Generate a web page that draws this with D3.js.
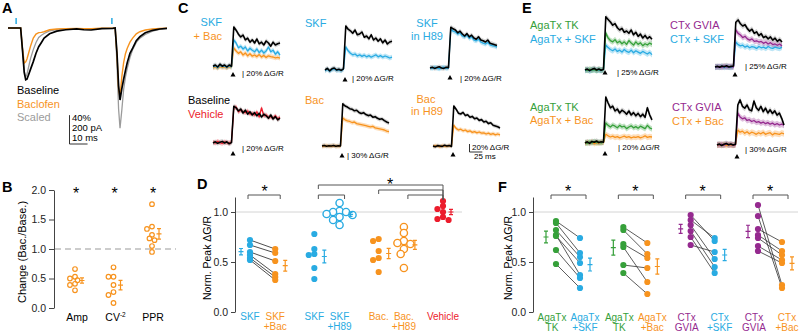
<!DOCTYPE html>
<html>
<head>
<meta charset="utf-8">
<script src="https://cdn.jsdelivr.net/npm/d3@7"></script>
<style>
  body { margin: 0; background: #fff; }
  text { font-family: "Liberation Sans", Arial, sans-serif; }
</style>
</head>
<body>
<svg id="fig" width="800" height="333"></svg>
<script>
const C = { blue: "#29abe2", orange: "#f7931e", red: "#ec1c2c", green: "#36a03a", purple: "#952a8f", gray: "#9b9b9b" };

// ---- Panel A: EPSCs (ms, pA)
const tA = [0, 7, 8, 9, 9.8, 10.5, 11.5, 12.5, 14, 15.5, 17, 18.5, 20, 23, 27, 32, 38, 42, 46, 52,
            58, 59.3, 60.3, 61.2, 62, 63, 64, 65, 66, 67.5, 69, 71, 73, 76, 80, 84, 88];
const aBaseline = [0, 0, -150, -310, -359, -355, -320, -285, -233, -175, -130, -100, -70, -40, -22, -12, -6, -12, -14, -4,
                   -2, 0, -170, -400, -499, -420, -355, -295, -240, -175, -140, -88, -60, -33, -16, -7, -2];
const aBaclofen = [0, 0, -140, -243, -235, -215, -170, -125, -70, -42, -32, -30, -26, -12, -7, -4, -3, -4, -5, -2,
                   -1, 0, -180, -420, -480, -337, -240, -178, -140, -98, -70, -40, -26, -14, -7, -3, -1];
const aScaled = [0, 0, -150, -300, -340, -320, -265, -210, -150, -100, -65, -50, -38, -20, -11, -6, -4, -6, -7, -3,
                 -1, 0, -240, -560, -695, -568, -425, -340, -280, -205, -150, -100, -70, -45, -22, -9, -3];
const aStim = [4.5, 57.5];

// ---- Panel B: change ratios
const bCats = ["Amp", "CV", "PPR"];
const bAmp = [0.66, 0.53, 0.50, 0.47, 0.41, 0.39, 0.30];
const bCV = [0.69, 0.53, 0.53, 0.39, 0.27, 0.22, 0.085];
const bPPR = [1.76, 1.38, 1.34, 1.24, 1.18, 1.15, 1.05, 0.95];

// ---- Panels C and E: dG/R traces (% , sampled every 4.5 ms)
const tTrace = d3.range(30).map(i => i * 4.5);
const c1Black = [2,5,0,7,2,5,0,5,2,100,92,82,75,80,68,72,62,68,60,70,58,62,55,65,60,52,62,55,58,60];
const c1Blue = [0,3,-2,4,1,2,-1,3,0,68,60,48,52,45,50,40,47,42,38,45,36,42,35,40,50,38,42,32,38,30];
const c1Orange = [-2,0,-3,1,-1,0,-2,1,-1,48,40,34,38,30,35,28,33,27,30,26,31,25,29,24,28,26,25,23,24,22];
const c2Black = [0,4,-2,3,5,0,2,-1,3,110,102,98,92,100,88,90,95,82,85,78,88,75,80,72,78,68,75,65,70,72];
const c2Blue = [-2,2,-3,1,3,-1,0,-2,2,58,48,42,38,40,35,38,34,37,33,36,32,35,38,33,36,32,35,33,30,32];
const c3Black = [0,2,-1,1,3,0,-1,2,1,102,98,95,88,92,85,80,86,78,82,75,72,78,70,68,65,70,62,60,58,56];
const c3Blue = [1,-1,2,0,-2,1,2,-1,0,98,92,90,85,88,80,78,82,74,78,70,68,72,65,62,60,64,58,56,55,52];
const c4Black = [0,3,-1,2,4,0,3,-2,1,92,88,80,85,75,82,72,78,70,76,68,74,65,72,68,62,70,60,66,58,62];
const c4Red = [2,0,4,1,-1,3,1,0,2,88,90,78,82,78,76,80,72,74,70,78,65,88,68,70,64,66,62,68,60,64];
const c5Black = [0,2,-1,1,0,2,-1,1,0,158,150,146,140,138,132,134,126,122,125,118,114,116,108,110,104,100,102,95,90,86];
const c5Orange = [-1,0,1,-1,0,1,0,-1,0,105,98,94,92,88,90,84,82,80,78,76,74,72,74,68,66,64,62,60,56,54];
const c6Black = [0,-2,1,0,-1,2,0,1,-1,100,92,82,80,84,76,78,72,74,68,70,64,66,60,62,56,58,52,50,48,45];
const c6Orange = [-1,1,0,-2,1,0,-1,1,0,52,44,40,42,38,40,36,38,34,36,33,35,32,33,30,32,29,31,28,30,28];
const e1Black = [0,3,-2,2,5,0,3,-1,2,166,158,150,140,145,132,125,130,118,122,115,125,110,118,105,112,100,108,98,104,96];
const e1Green = [2,-1,3,0,1,-2,2,0,1,116,100,92,88,95,85,90,82,88,80,92,84,78,88,80,85,76,82,78,84,80];
const e1Blue = [-2,1,-3,0,2,-1,0,-2,1,78,70,64,60,66,58,62,56,64,58,55,62,54,60,56,52,58,54,50,55,48];
const e2Black = [0,2,-1,3,1,4,0,2,3,140,147,135,128,132,120,112,118,105,110,98,104,92,96,88,94,84,90,80,86,78];
const e2Purple = [1,0,2,-1,3,0,2,1,0,116,105,100,92,96,88,84,88,80,82,78,80,74,78,72,76,70,72,68,72,66];
const e2Blue = [-1,1,0,2,-1,1,0,-1,1,78,70,66,68,62,66,60,64,62,58,64,60,62,58,64,60,58,62,60,58,62];
const e3Black = [0,3,-1,4,2,5,1,3,2,115,100,88,92,80,85,75,82,78,72,80,70,76,68,74,66,72,64,88,70,58];
const e3Green = [2,-1,3,0,4,1,2,0,3,50,44,40,45,42,38,44,40,42,36,40,43,38,41,37,42,39,36,44,38,35];
const e3Orange = [-1,2,0,3,-2,1,0,2,1,22,18,15,17,14,16,13,15,17,14,16,13,15,14,16,13,15,18,14,16,15];
const e4Black = [0,4,-2,3,6,1,4,0,3,150,169,145,138,150,132,128,165,140,130,145,125,138,120,132,118,128,112,120,100,75];
const e4Purple = [2,0,3,-1,4,1,2,0,1,120,105,98,102,92,95,88,92,85,88,82,86,80,84,78,82,76,80,75,78,74];
const e4Orange = [-1,1,0,2,-2,1,0,-1,1,56,48,52,44,50,42,48,45,40,46,42,48,40,44,46,38,44,42,40,45,42];
const stimTime = 39;

// ---- Panel D: normalized peak
const dSKFPair = [0.72, 0.67, 0.60, 0.57, 0.54, 0.52];
const dSKFBacPair = [0.63, 0.59, 0.51, 0.38, 0.35, 0.32];
const dSKF = [0.78, 0.63, 0.58, 0.57, 0.44, 0.33];
const dSKFH89 = [1.09, 1.01, 1.00, 1.00, 0.98, 0.97, 0.95, 0.92, 0.87];
const dBac = [0.73, 0.71, 0.61, 0.54, 0.52, 0.40];
const dBacH89 = [0.85, 0.79, 0.71, 0.69, 0.68, 0.63, 0.58, 0.44];
const dVehicle = [1.11, 1.06, 1.03, 1.00, 0.95, 0.93, 0.92];

// ---- Panel F: paired normalized peak
const fAgaTK1 = [0.91, 0.89, 0.82, 0.77, 0.76, 0.62, 0.48];
const fAgaSKF = [0.74, 0.59, 0.55, 0.37, 0.49, 0.34, 0.24];
const fAgaTK2 = [0.85, 0.82, 0.68, 0.65, 0.47, 0.39];
const fAgaBac = [0.69, 0.58, 0.54, 0.30, 0.44, 0.18];
const fCtx1 = [0.97, 0.92, 0.87, 0.81, 0.75, 0.67];
const fCtxSKF = [0.71, 0.74, 0.53, 0.45, 0.39, 0.60];
const fCtx2 = [1.07, 0.96, 0.83, 0.77, 0.74, 0.66, 0.61];
const fCtxBac = [0.27, 0.24, 0.70, 0.61, 0.57, 0.52, 0.49];

const svg = d3.select("#fig");

function txt(g, x, y, s, opts = {}) {
  return g.append("text").attr("x", x).attr("y", y)
    .attr("font-size", opts.size || 11)
    .attr("fill", opts.color || "#000")
    .attr("text-anchor", opts.anchor || "start")
    .attr("font-weight", opts.bold ? "bold" : null)
    .text(s);
}

function panelLetter(x, y, s) { txt(svg, x, y, s, { size: 14.5, bold: true }); }

function errBar(g, x, vals, y, color) {
  const m = d3.mean(vals), s = d3.deviation(vals) / Math.sqrt(vals.length);
  g.append("path")
    .attr("d", `M${x},${y(m - s)}V${y(m + s)}M${x - 2},${y(m - s)}h4M${x - 2},${y(m + s)}h4M${x - 2.5},${y(m)}h5`)
    .attr("stroke", color).attr("stroke-width", 1.2).attr("fill", "none");
}

// simple beeswarm: horizontal offsets so dots barely overlap
function swarm(vals, y, r) {
  const placed = [];
  return vals.map(v => {
    const py = y(v);
    for (let k = 0; k < 14; k++) {
      const dx = k === 0 ? 0 : (k % 2 ? -1 : 1) * Math.ceil(k / 2) * r * 0.9;
      if (placed.every(p => Math.hypot(p[0] - dx, p[1] - py) >= r * 1.4)) {
        placed.push([dx, py]);
        return dx;
      }
    }
    return 0;
  });
}

function star(g, x, y) { txt(g, x, y, "*", { size: 16, anchor: "middle" }); }

function bracket(g, x1, x2, y, tl = 4, tr = 4) {
  g.append("path").attr("d", `M${x1},${y + tl}V${y}H${x2}V${y + tr}`)
    .attr("fill", "none").attr("stroke", "#555").attr("stroke-width", 1);
}

// ================= A =================
(function () {
  const g = svg.append("g");
  panelLetter(2, 13, "A");
  const x = d3.scaleLinear().domain([0, 88]).range([8, 167]);
  const y = d3.scaleLinear().domain([-700, 0]).range([129, 28]);
  const line = d3.line().x((d, i) => x(tA[i])).y(d => y(d));
  [[aScaled, C.gray, 1.3], [aBaclofen, C.orange, 1.4], [aBaseline, "#000", 1.7]].forEach(([v, c, w]) => {
    g.append("path").attr("d", line(v)).attr("fill", "none").attr("stroke", c).attr("stroke-width", w);
  });
  aStim.forEach(t => {
    g.append("line").attr("x1", x(t)).attr("x2", x(t)).attr("y1", 18).attr("y2", 24)
      .attr("stroke", C.blue).attr("stroke-width", 1.5);
  });
  txt(g, 17, 94, "Baseline", { color: "#000" });
  txt(g, 17, 108, "Baclofen", { color: C.orange });
  txt(g, 17, 121, "Scaled", { color: C.gray });
  const bx = 69.5, by = 144;
  g.append("path").attr("d", `M${bx},${by - (y(-200) - y(0))}V${by}h${x(10) - x(0)}`)
    .attr("fill", "none").attr("stroke", "#333").attr("stroke-width", 1);
  txt(g, 72, 121, "40%", { size: 9.5 });
  txt(g, 72, 131, "200 pA", { size: 9.5 });
  txt(g, 72, 141, "10 ms", { size: 9.5 });
})();

// ================= B =================
(function () {
  const g = svg.append("g");
  panelLetter(2, 192, "B");
  const x = d3.scalePoint().domain(bCats).range([75, 152]);
  const y = d3.scaleLinear().domain([0, 2]).range([308, 190]);
  const ax = g.append("g").attr("transform", "translate(54,0)")
    .call(d3.axisLeft(y).tickValues([0, 0.5, 1, 1.5, 2]).tickFormat(d3.format(".1f")).tickSize(5).tickSizeOuter(0));
  ax.selectAll("text").attr("font-size", 10.5).attr("font-family", "Liberation Sans, Arial").attr("fill", "#222");
  ax.selectAll("path,line").attr("stroke", "#444");
  g.append("line").attr("x1", 55).attr("x2", 176).attr("y1", y(1)).attr("y2", y(1))
    .attr("stroke", "#999").attr("stroke-dasharray", "6,4");
  [bAmp, bCV, bPPR].forEach((vals, i) => {
    const cx = x(bCats[i]);
    const off = swarm(vals, y, 2.8);
    g.selectAll(null).data(vals).enter().append("circle")
      .attr("cx", (d, j) => cx + off[j]).attr("cy", d => y(d)).attr("r", 2.3)
      .attr("fill", "none").attr("stroke", C.orange).attr("stroke-width", 1.2);
    errBar(g, cx + 7, vals, y, C.orange);
    star(g, cx + 1, 199);
  });
  g.append("text").attr("transform", "translate(26,252) rotate(-90)").attr("text-anchor", "middle")
    .attr("font-size", 11).text("Change (Bac./Base.)");
  txt(g, x("Amp") + 2, 321, "Amp", { size: 10.5, anchor: "middle" });
  const cv = txt(g, x("CV") + 2, 321, "CV", { size: 10.5, anchor: "middle" });
  cv.append("tspan").attr("font-size", 6.5).attr("dy", -4).text("-2");
  txt(g, x("PPR") + 1, 321, "PPR", { size: 10.5, anchor: "middle" });
})();

// ================= C & E trace panels =================
const tracePanels = [
  { x0: 213, base: 67, bar: 20, sem: 6, arrowDy: 8, sx: 29, sy: 9,
    traces: [[c1Orange, C.orange], [c1Blue, C.blue], [c1Black, "#000"]],
    labels: [["SKF", C.blue, 222, 26, "end"], ["+ Bac", C.orange, 222, 40, "end"]] },
  { x0: 325, base: 70, bar: 20, sem: 6, arrowDy: 10, sx: 27, sy: 11,
    traces: [[c2Blue, C.blue], [c2Black, "#000"]],
    labels: [["SKF", C.blue, 305, 27, "start"]] },
  { x0: 430, base: 68, bar: 20, sem: 6, arrowDy: 10, sx: 30, sy: 13,
    traces: [[c3Blue, C.blue], [c3Black, "#000"]],
    labels: [["SKF", C.blue, 427, 27, "middle"], ["in H89", C.blue, 427, 40, "middle"]] },
  { x0: 213, base: 143, bar: 20, sem: 6, arrowDy: 11, sx: 29, sy: 8,
    traces: [[c4Red, C.red], [c4Black, "#000"]],
    labels: [["Baseline", "#000", 188, 104, "start"], ["Vehicle", C.red, 188, 118, "start"]] },
  { x0: 322, base: 146, bar: 30, sem: 8, arrowDy: 10, sx: 25, sy: 12,
    traces: [[c5Orange, C.orange], [c5Black, "#000"]],
    labels: [["Bac", C.orange, 305, 104, "start"]] },
  { x0: 433, base: 146, bar: 20, sem: 5, arrowDy: 9, sx: null,
    traces: [[c6Orange, C.orange], [c6Black, "#000"]],
    labels: [["Bac", C.orange, 426, 103, "middle"], ["in H89", C.orange, 427, 115, "middle"]] },
  { x0: 585, base: 70, bar: 25, sem: 9, arrowDy: 3, sx: 32, sy: 5,
    traces: [[e1Blue, C.blue], [e1Green, C.green], [e1Black, "#000"]],
    labels: [["AgaTx TK", C.green, 530, 29, "start"], ["AgaTx + SKF", C.blue, 530, 43, "start"]] },
  { x0: 715, base: 67, bar: 25, sem: 9, arrowDy: 8, sx: 30, sy: 2,
    traces: [[e2Blue, C.blue], [e2Purple, C.purple], [e2Black, "#000"]],
    labels: [["CTx GVIA", C.purple, 670, 29, "start"], ["CTx + SKF", C.blue, 670, 43, "start"]] },
  { x0: 585, base: 143, bar: 20, sem: 7, arrowDy: 11, sx: 33, sy: 7,
    traces: [[e3Orange, C.orange], [e3Green, C.green], [e3Black, "#000"]],
    labels: [["AgaTx TK", C.green, 530, 111, "start"], ["AgaTx + Bac", C.orange, 530, 124, "start"]] },
  { x0: 717, base: 145, bar: 30, sem: 11, arrowDy: 12, sx: 28, sy: 7,
    traces: [[e4Orange, C.orange], [e4Purple, C.purple], [e4Black, "#000"]],
    labels: [["CTx GVIA", C.purple, 672, 111, "start"], ["CTx + Bac", C.orange, 672, 125, "start"]] }
];

panelLetter(178, 13, "C");
panelLetter(522, 13, "E");

tracePanels.forEach(p => {
  const g = svg.append("g");
  const x = d3.scaleLinear().domain([0, 130.5]).range([p.x0, p.x0 + 67]);
  const y = d3.scaleLinear().domain([0, p.bar]).range([p.base, p.base - 8]);
  const band = d3.area().x((d, i) => x(tTrace[i])).y0(d => y(d - p.sem)).y1(d => y(d + p.sem));
  const line = d3.line().x((d, i) => x(tTrace[i])).y(d => y(d));
  p.traces.forEach(([v, c]) => {
    g.append("path").attr("d", band(v)).attr("fill", c === "#000" ? "#888" : c)
      .attr("opacity", c === "#000" ? 0.35 : 0.3);
  });
  p.traces.forEach(([v, c]) => {
    g.append("path").attr("d", line(v)).attr("fill", "none").attr("stroke", c)
      .attr("stroke-width", c === "#000" ? 1.6 : 1.3).attr("stroke-linejoin", "round");
  });
  g.append("path").attr("d", d3.symbol(d3.symbolTriangle, 11)())
    .attr("transform", `translate(${x(stimTime)},${p.base + p.arrowDy})`).attr("fill", "#000");
  if (p.sx != null) {
    txt(g, p.x0 + p.sx, p.base + p.sy, "| " + p.bar + "% \u0394G/R", { size: 8 });
  } else {
    const bx = 469.5, by = 152;
    g.append("path").attr("d", `M${bx},${by - (y(0) - y(p.bar))}V${by}h${x(25) - x(0)}`)
      .attr("fill", "none").attr("stroke", "#333");
    txt(g, 472, 150, p.bar + "% \u0394G/R", { size: 8 });
    txt(g, 474, 159, "25 ms", { size: 8 });
  }
  p.labels.forEach(([s, c, lx, ly, a]) => txt(g, lx, ly, s, { color: c, anchor: a }));
});

// ================= D =================
(function () {
  const g = svg.append("g");
  panelLetter(197, 189, "D");
  const y = d3.scaleLinear().domain([0, 1.15]).range([312, 197]);
  const cats = [
    { label: ["SKF"], color: C.blue, vals: dSKFPair, open: false, err: -9 },
    { label: ["SKF", "+Bac"], color: C.orange, vals: dSKFBacPair, open: false, err: 10 },
    { label: ["SKF"], color: C.blue, vals: dSKF, open: false, err: 10 },
    { label: ["SKF", "+H89"], color: C.blue, vals: dSKFH89, open: true, err: 11 },
    { label: ["Bac."], color: C.orange, vals: dBac, open: false, err: 10 },
    { label: ["Bac.", "+H89"], color: C.orange, vals: dBacH89, open: true, err: 11 },
    { label: ["Vehicle"], color: C.red, vals: dVehicle, open: false, err: 8 }
  ];
  const group = [0, 0, 1, 1, 2, 2, 3];
  const slot = i => i + 0.55 * group[i];
  const x = d3.scaleLinear().domain([0, slot(6)]).range([250, 443]);

  g.append("line").attr("x1", 236).attr("x2", 462).attr("y1", y(1)).attr("y2", y(1))
    .attr("stroke", "#d4d4d4");
  const ax = g.append("g").attr("transform", "translate(235,0)")
    .call(d3.axisLeft(y).tickValues([0, 0.5, 1]).tickFormat(d3.format(".1f")).tickSize(4).tickSizeOuter(0));
  ax.selectAll("text").attr("font-size", 10.5).attr("font-family", "Liberation Sans, Arial").attr("fill", "#222");
  ax.selectAll("path,line").attr("stroke", "#444");
  g.append("text").attr("transform", "translate(211,258) rotate(-90)").attr("text-anchor", "middle")
    .attr("font-size", 10.5).text("Norm. Peak \u0394G/R");

  // paired lines
  dSKFPair.forEach((v, i) => {
    g.append("line").attr("x1", x(slot(0))).attr("x2", x(slot(1)))
      .attr("y1", y(v)).attr("y2", y(dSKFBacPair[i])).attr("stroke", "#222").attr("stroke-width", 0.8);
  });
  cats.forEach((c, i) => {
    const cx = x(slot(i));
    const r = c.open ? 3.6 : 3.1;
    const off = i < 2 ? c.vals.map(() => 0) : swarm(c.vals, y, r);
    g.selectAll(null).data(c.vals).enter().append("circle")
      .attr("cx", (d, j) => cx + off[j]).attr("cy", d => y(d)).attr("r", r)
      .attr("fill", c.open ? "#fff" : c.color).attr("stroke", c.color)
      .attr("stroke-width", c.open ? 1.4 : 0);
    errBar(g, cx + c.err, c.vals, y, c.color);
    c.label.forEach((s, k) => txt(g, cx, 320 + k * 10, s, { size: 10, color: c.color, anchor: "middle" }));
  });

  const xs = i => x(slot(i));
  bracket(g, xs(0) - 2, xs(1) + 5, 195);
  star(g, (xs(0) + xs(1)) / 2 + 2, 197);
  bracket(g, xs(2) + 4, xs(6), 185, 4, 15);
  bracket(g, xs(2) + 4, xs(3) + 5, 195);
  bracket(g, xs(4), xs(6), 190, 4, 10);
  bracket(g, xs(5) + 4, xs(6), 195, 4, 5);
  star(g, 390, 190);
})();

// ================= F =================
(function () {
  const g = svg.append("g");
  panelLetter(498, 192, "F");
  const y = d3.scaleLinear().domain([0, 1.15]).range([312, 197]);
  const pairs = [
    { a: { label: ["AgaTx", "TK"], color: C.green, vals: fAgaTK1 }, b: { label: ["AgaTx", "+SKF"], color: C.blue, vals: fAgaSKF } },
    { a: { label: ["AgaTx", "TK"], color: C.green, vals: fAgaTK2 }, b: { label: ["AgaTx", "+Bac"], color: C.orange, vals: fAgaBac } },
    { a: { label: ["CTx", "GVIA"], color: C.purple, vals: fCtx1 }, b: { label: ["CTx", "+SKF"], color: C.blue, vals: fCtxSKF } },
    { a: { label: ["CTx", "GVIA"], color: C.purple, vals: fCtx2 }, b: { label: ["CTx", "+Bac"], color: C.orange, vals: fCtxBac } }
  ];
  const x = d3.scalePoint().domain(d3.range(pairs.length)).range([568, 770]);

  g.append("line").attr("x1", 534).attr("x2", 798).attr("y1", y(1)).attr("y2", y(1))
    .attr("stroke", "#d4d4d4");
  const ax = g.append("g").attr("transform", "translate(533,0)")
    .call(d3.axisLeft(y).tickValues([0, 0.5, 1]).tickFormat(d3.format(".1f")).tickSize(4).tickSizeOuter(0));
  ax.selectAll("text").attr("font-size", 10.5).attr("font-family", "Liberation Sans, Arial").attr("fill", "#222");
  ax.selectAll("path,line").attr("stroke", "#444");
  g.append("text").attr("transform", "translate(512,258) rotate(-90)").attr("text-anchor", "middle")
    .attr("font-size", 10.5).text("Norm. Peak \u0394G/R");

  pairs.forEach((p, i) => {
    const xa = x(i) - 12, xb = x(i) + 12;
    p.a.vals.forEach((v, j) => {
      g.append("line").attr("x1", xa).attr("x2", xb).attr("y1", y(v)).attr("y2", y(p.b.vals[j]))
        .attr("stroke", "#333").attr("stroke-width", 0.8);
    });
    [[p.a, xa, -10], [p.b, xb, 10]].forEach(([s, cx, eo]) => {
      g.selectAll(null).data(s.vals).enter().append("circle")
        .attr("cx", cx).attr("cy", d => y(d)).attr("r", 3.1).attr("fill", s.color);
      errBar(g, cx + eo, s.vals, y, s.color);
    });
    p.a.label.forEach((s, k) => txt(g, xa - 4, 321 + k * 10, s, { size: 10, color: p.a.color, anchor: "middle" }));
    p.b.label.forEach((s, k) => txt(g, xb + 5, 321 + k * 10, s, { size: 10, color: p.b.color, anchor: "middle" }));
    bracket(g, xa - 5, xb + 6, 195);
    star(g, (xa + xb) / 2, 197);
  });
})();
</script>
</body>
</html>
